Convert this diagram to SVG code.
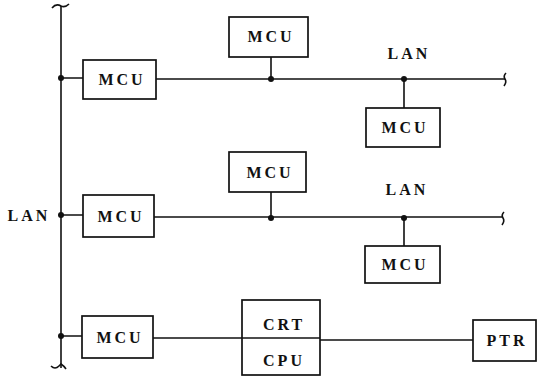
<svg xmlns="http://www.w3.org/2000/svg" width="538" height="377" viewBox="0 0 538 377">
<style>
.box{fill:#fff;stroke:#111;stroke-width:1.7}
.ln{fill:none;stroke:#111;stroke-width:1.6}
.dot{fill:#111}
text{font-family:"Liberation Serif","Times New Roman",serif;font-size:16px;font-weight:bold;fill:#111;letter-spacing:3px;text-anchor:middle}
</style>
<rect width="538" height="377" fill="#fff"/>
<g id="connectors">
<path class="ln" d="M61,6 V368"/>
<path class="ln" d="M52,8 q4,-5 9,-2 q4,2 8,-2"/>
<path class="ln" d="M51,366 q4,4 8,0 q2,-2 2,-2 q3,2 5,5"/>
<path class="ln" d="M61,78 H83 M156,79 H505"/>
<path class="ln" d="M506,73 q-3,3 -1,6 q2,3 -1,7"/>
<path class="ln" d="M271,57 V79 M404,79 V108"/>
<path class="ln" d="M61,215 H83 M154,217 H503"/>
<path class="ln" d="M504,212 q-3,3 -1,6 q2,3 -1,7"/>
<path class="ln" d="M271,192 V218 M404,218 V246"/>
<path class="ln" d="M61,336 H82 M153,338 H242 M320,340 H473"/>
<circle class="dot" cx="61" cy="78" r="3"/>
<circle class="dot" cx="271" cy="79" r="3"/>
<circle class="dot" cx="404" cy="79" r="3"/>
<circle class="dot" cx="61" cy="215" r="3"/>
<circle class="dot" cx="271" cy="218" r="3"/>
<circle class="dot" cx="404" cy="218" r="3"/>
<circle class="dot" cx="61" cy="336" r="3"/>
</g>
<g id="lan-top"><text x="409" y="59">LAN</text></g>
<g id="lan-mid"><text x="407" y="195">LAN</text></g>
<g id="lan-left"><text x="29" y="221">LAN</text></g>
<g id="mcu1"><rect class="box" x="83" y="60" width="73" height="39"/><text x="122" y="85">MCU</text></g>
<g id="mcu2"><rect class="box" x="229" y="17" width="79" height="40"/><text x="271" y="42">MCU</text></g>
<g id="mcu3"><rect class="box" x="366" y="108" width="74" height="39"/><text x="405" y="133">MCU</text></g>
<g id="mcu4"><rect class="box" x="83" y="195" width="71" height="42"/><text x="121" y="222">MCU</text></g>
<g id="mcu5"><rect class="box" x="229" y="152" width="77" height="40"/><text x="270" y="178">MCU</text></g>
<g id="mcu6"><rect class="box" x="365" y="246" width="75" height="37"/><text x="405" y="270">MCU</text></g>
<g id="mcu7"><rect class="box" x="82" y="316" width="71" height="42"/><text x="120" y="343">MCU</text></g>
<g id="crtcpu"><rect class="box" x="242" y="300" width="78" height="75"/><path class="ln" d="M242,338 H320"/><text x="284" y="330">CRT</text><text x="284" y="366">CPU</text></g>
<g id="ptr"><rect class="box" x="473" y="320" width="63" height="41"/><text x="507" y="346">PTR</text></g>
</svg>
